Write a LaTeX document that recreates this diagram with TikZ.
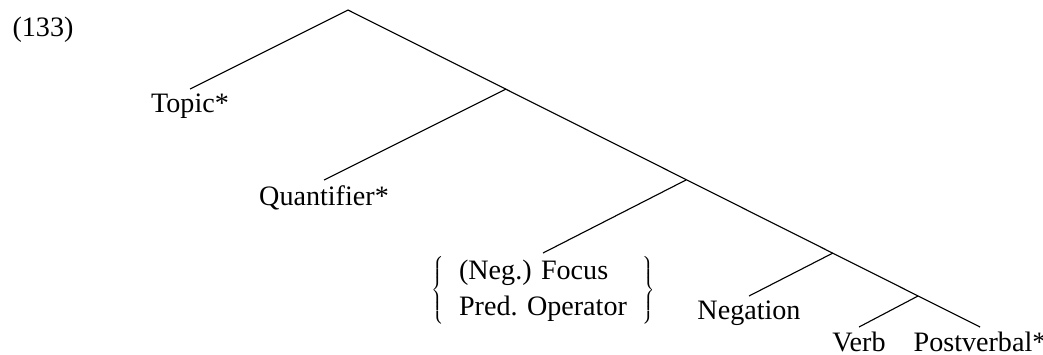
\documentclass[tikz,border=0pt]{standalone}
\usepackage{fontspec}
\setmainfont{Liberation Serif}
\begin{document}
\begin{tikzpicture}[
 line width=0.8pt,
 font=\fontsize{20}{26}\selectfont,
 leaf/.style={anchor=north,inner sep=1.2mm},
 choice/.style={anchor=north,inner sep=0pt}
]
\useasboundingbox (0,0) rectangle (26.075,8.85);
\node (example-num) [anchor=base west,inner sep=0pt] at (0.3,7.95) {(133)};
% branching points on the right spine
\coordinate (root) at (8.7,8.6);
\coordinate (topic-split) at (12.65,6.625);
\coordinate (quant-split) at (17.15,4.35);
\coordinate (focus-split) at (20.825,2.525);
\coordinate (neg-split) at (22.95,1.45);
% leaves
\node (topic) [leaf] at (4.75,6.625) {Topic*};
\node (quantifier) [leaf] at (8.1,4.35) {Quantifier*};
\node (focus) [choice] at (13.575,2.525)
 {$\left\{\hspace{0.55em}\begin{tabular}{@{}l@{}}(Neg.) Focus\\Pred. Operator\end{tabular}\hspace{0.55em}\right\}$};
\node (negation) [leaf] at (18.725,1.45) {Negation};
\node (verb) [leaf] at (21.475,0.675) {Verb};
\node (postverbal) [leaf] at (24.5,0.675) {Postverbal*};
\draw (root) -- (topic.north);
\draw (root) -- (postverbal.north);
\draw (topic-split) -- (quantifier.north);
\draw (quant-split) -- (focus.north);
\draw (focus-split) -- (negation.north);
\draw (neg-split) -- (verb.north);
\end{tikzpicture}
\end{document}
